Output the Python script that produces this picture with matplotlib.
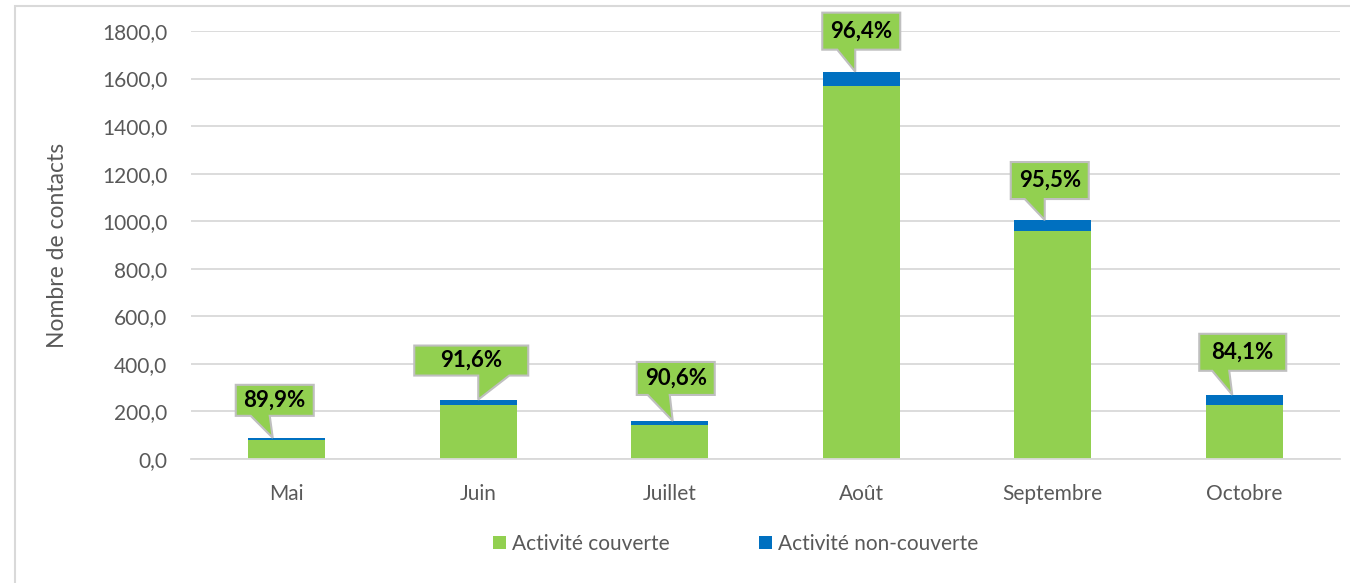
import matplotlib.pyplot as plt
from matplotlib.patches import Polygon, Rectangle
from matplotlib.transforms import IdentityTransform
import numpy as np

plt.rcParams['font.family'] = ['Lato', 'DejaVu Sans']

# données mensuelles (nombre de contacts)
mois = ["Mai", "Juin", "Juillet", "Août", "Septembre", "Octobre"]
couverte = [80, 229, 145, 1570, 960, 227]
non_couverte = [9, 21, 15, 59, 45, 43]
y_ticks = [0, 200, 400, 600, 800, 1000, 1200, 1400, 1600, 1800]

vert = "#92D050"
bleu = "#0070C0"
gris_txt = "#595959"
gris_grille = "#D9D9D9"

W, H = 1350, 583
fig = plt.figure(figsize=(W / 100, H / 100), dpi=100)
ax = fig.add_axes([191 / W, 1 - 459 / H, (1340 - 191) / W, (459 - 31) / H])

x = np.arange(len(mois))
ax.bar(x, couverte, width=0.4, color=vert, label="Activité couverte", zorder=2)
ax.bar(x, non_couverte, width=0.4, bottom=couverte, color=bleu,
       label="Activité non-couverte", zorder=2)

ax.set_xlim(-0.5, len(mois) - 0.5)
ax.set_ylim(0, 1800)
ax.set_yticks(y_ticks)
ax.set_yticklabels([f"{v},0" for v in y_ticks])
ax.set_xticks(x)
ax.set_xticklabels(mois)
ax.tick_params(axis='both', length=0, labelsize=15, colors=gris_txt)
ax.tick_params(axis='y', pad=17)
ax.tick_params(axis='x', pad=18)
ax.grid(axis='y', color=gris_grille, linewidth=1.3, zorder=0)
for s in ['left', 'right', 'top']:
    ax.spines[s].set_visible(False)
ax.spines['bottom'].set_color(gris_grille)
ax.spines['bottom'].set_linewidth(1.3)
ax.set_ylabel("Nombre de contacts", fontsize=16.5, color=gris_txt)
ax.yaxis.set_label_coords(-123 / (1340 - 191), 0.5)

# bulles de pourcentage au-dessus de chaque barre
box_left = [-37, -64, -36, -33, -34, -33]
box_w = [78, 114, 78, 78, 78, 87]
box_h = [31, 30, 33, 37, 37, 37]
gap = [22, 24, 26, 22, 21, 24]
base = [(-22, -3), (0, 31), (-25, -3), (-18, 0), (-20, 0), (-20, -3)]
tip_dx = [-14, 0, 3, -6, -8, -12]

for i in range(len(mois)):
    total = couverte[i] + non_couverte[i]
    pct = 100 * couverte[i] / total
    tx, ty = ax.transData.transform((x[i], total))
    tx += tip_dx[i]
    b = ty + gap[i]
    l = tx + box_left[i]
    r = l + box_w[i]
    t = b + box_h[i]
    verts = [(l, b), (tx + base[i][0], b), (tx, ty), (tx + base[i][1], b),
             (r, b), (r, t), (l, t)]
    fig.add_artist(Polygon(verts, closed=True, facecolor=vert, edgecolor="#BFBFBF",
                           linewidth=1.5, transform=IdentityTransform(), zorder=5))
    fig.text((l + r) / 2 / W, (b + t) / 2 / H, f"{pct:.1f}%".replace(".", ","),
             ha='center', va='center', fontsize=16, fontweight='bold',
             color='black', zorder=6)

fig.legend(loc='center', bbox_to_anchor=(0.545, 1 - 544 / H), ncol=2,
           frameon=False, fontsize=15, labelcolor=gris_txt,
           handlelength=0.6, handleheight=0.6, handletextpad=0.3, columnspacing=4.3)

# cadre du graphique
fig.add_artist(Rectangle((15 / W, -0.05), 1.1, 1 - 6 / H + 0.05, transform=fig.transFigure,
                         facecolor='none', edgecolor=gris_grille, linewidth=1.5))

fig.savefig("out.png", dpi=100)
